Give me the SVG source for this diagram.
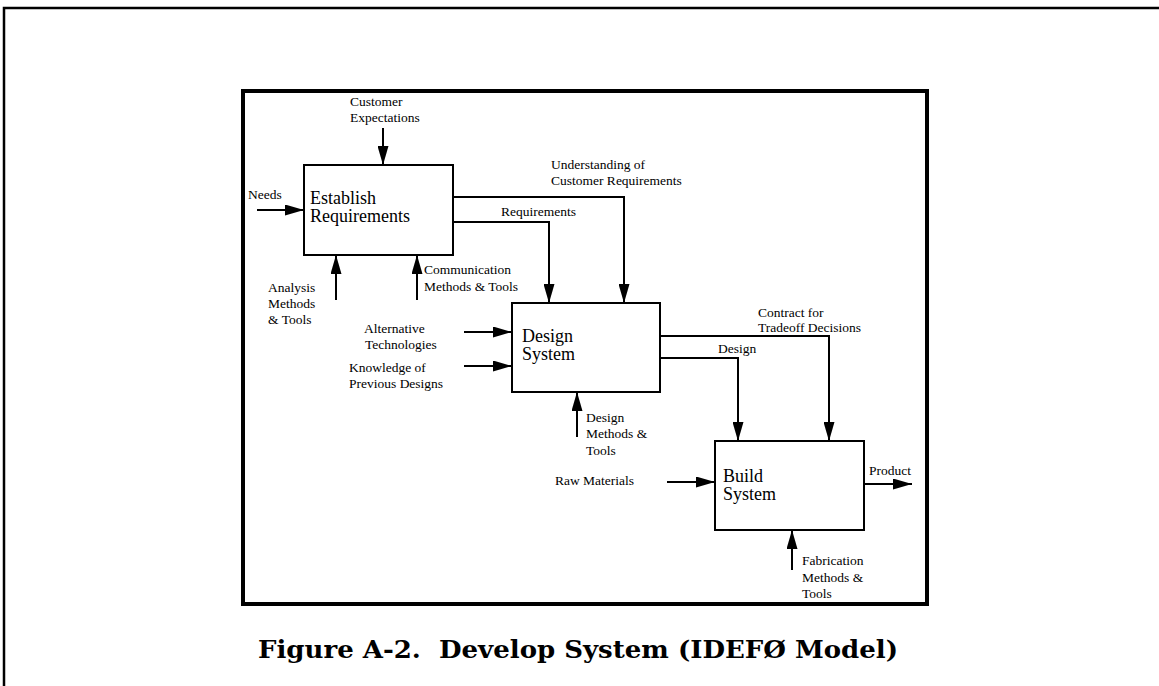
<svg xmlns="http://www.w3.org/2000/svg" width="1159" height="686" viewBox="0 0 1159 686">
<style>
.lbl{font-family:"Liberation Serif","Times New Roman",serif;font-size:13.5px;fill:#000}
.ttl{font-family:"Liberation Serif","Times New Roman",serif;font-size:18px;fill:#000}
.box{fill:#fff;stroke:#000;stroke-width:2}
.con{fill:none;stroke:#000;stroke-width:2;marker-end:url(#ah)}
.cap{font-family:"DejaVu Serif Condensed","DejaVu Serif","Liberation Serif",serif;font-weight:bold;font-size:25px;fill:#000}
</style>
<defs>
<marker id="ah" markerUnits="userSpaceOnUse" markerWidth="19" markerHeight="11" refX="19" refY="5.5" orient="auto">
<path d="M0,0 L19,5.5 L0,11 z" fill="#000"/>
</marker>
</defs>
<rect width="1159" height="686" fill="#fff"/>
<path d="M4,686 V8 H1159" fill="none" stroke="#000" stroke-width="2.5"/>
<rect x="243" y="91" width="684" height="513" fill="none" stroke="#000" stroke-width="4"/>
<g id="connectors">
<path class="con" d="M257,210 H304"/>
<path class="con" d="M383,128 V165"/>
<path class="con" d="M336,300 V255"/>
<path class="con" d="M417,300 V255"/>
<path class="con" d="M453,197 H624 V303"/>
<path class="con" d="M453,222 H549 V303"/>
<path class="con" d="M464,332 H512"/>
<path class="con" d="M464,366 H512"/>
<path class="con" d="M577,437 V392"/>
<path class="con" d="M660,336 H829 V441"/>
<path class="con" d="M660,358 H738 V441"/>
<path class="con" d="M667,482 H715"/>
<path class="con" d="M864,484 H912"/>
<path class="con" d="M792,570 V530"/>
<text class="lbl" x="350" y="106">Customer</text>
<text class="lbl" x="350" y="122">Expectations</text>
<text class="lbl" x="248" y="199">Needs</text>
<text class="lbl" x="268" y="292">Analysis</text>
<text class="lbl" x="268" y="308">Methods</text>
<text class="lbl" x="268" y="324">&amp; Tools</text>
<text class="lbl" x="424" y="274">Communication</text>
<text class="lbl" x="424" y="291">Methods &amp; Tools</text>
<text class="lbl" x="551" y="169">Understanding of</text>
<text class="lbl" x="551" y="185">Customer Requirements</text>
<text class="lbl" x="501" y="216">Requirements</text>
<text class="lbl" x="364" y="333">Alternative</text>
<text class="lbl" x="365" y="349">Technologies</text>
<text class="lbl" x="349" y="372">Knowledge of</text>
<text class="lbl" x="349" y="388">Previous Designs</text>
<text class="lbl" x="586" y="422">Design</text>
<text class="lbl" x="586" y="438">Methods &amp;</text>
<text class="lbl" x="586" y="455">Tools</text>
<text class="lbl" x="758" y="317">Contract for</text>
<text class="lbl" x="758" y="332">Tradeoff Decisions</text>
<text class="lbl" x="718" y="353">Design</text>
<text class="lbl" x="555" y="485">Raw Materials</text>
<text class="lbl" x="869" y="475">Product</text>
<text class="lbl" x="802" y="565">Fabrication</text>
<text class="lbl" x="802" y="582">Methods &amp;</text>
<text class="lbl" x="802" y="598">Tools</text>
</g>
<g id="establish-requirements">
<rect class="box" x="304" y="165" width="149" height="90"/>
<text class="ttl" x="310" y="204">Establish</text>
<text class="ttl" x="310" y="222">Requirements</text>
</g>
<g id="design-system">
<rect class="box" x="512" y="303" width="148" height="89"/>
<text class="ttl" x="522" y="342">Design</text>
<text class="ttl" x="522" y="360">System</text>
</g>
<g id="build-system">
<rect class="box" x="715" y="441" width="149" height="89"/>
<text class="ttl" x="723" y="482">Build</text>
<text class="ttl" x="723" y="500">System</text>
</g>
<text class="cap" x="258" y="658" textLength="640" lengthAdjust="spacingAndGlyphs" xml:space="preserve">Figure A-2.  Develop System (IDEFØ Model)</text>
</svg>
